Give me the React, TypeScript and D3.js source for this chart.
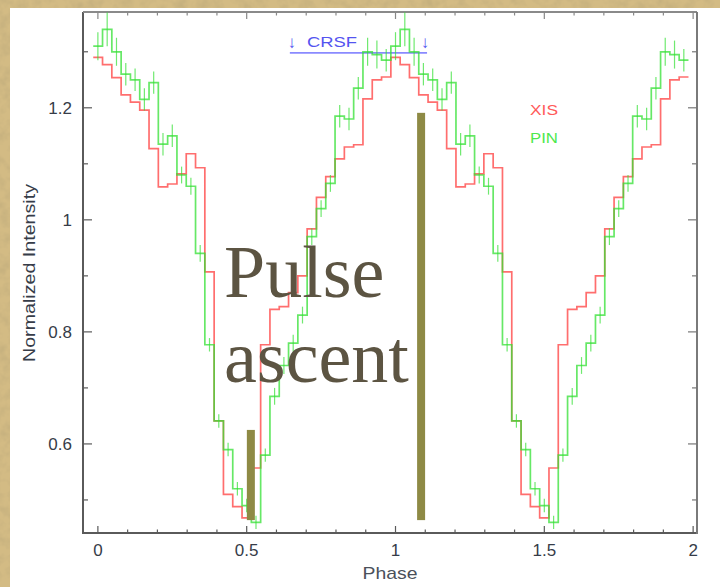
import React from "react";
import * as d3 from "d3";

// Canvas size
const W = 720;
const H = 587;

// Folded pulse profile: 32 phase bins per cycle, bins centred on k/32
const BINS = 32;
const xisProfile = [
  1.29, 1.277, 1.254, 1.223, 1.21, 1.196, 1.127, 1.059, 1.064, 1.082, 1.118,
  1.093, 0.907, 0.641, 0.51, 0.488, 0.468, 0.557, 0.777, 0.84, 0.845, 0.87,
  0.9, 0.984, 1.04, 1.077, 1.109, 1.13, 1.134, 1.216, 1.25, 1.255,
];
const pinProfile = [
  1.31, 1.34, 1.3, 1.26, 1.25, 1.215, 1.245, 1.135, 1.15, 1.08, 1.06, 0.94,
  0.777, 0.641, 0.59, 0.52, 0.49, 0.46, 0.58, 0.685, 0.74, 0.78, 0.83, 0.97,
  1.02, 1.065, 1.185, 1.18, 1.235, 1.3, 1.295, 1.285,
];
const pinError = [
  0.025, 0.03, 0.025, 0.02, 0.02, 0.02, 0.02, 0.02, 0.02, 0.015, 0.015, 0.015,
  0.012, 0.012, 0.012, 0.012, 0.012, 0.012, 0.012, 0.015, 0.015, 0.015, 0.015,
  0.015, 0.015, 0.015, 0.02, 0.02, 0.02, 0.025, 0.025, 0.02,
];
const cycles = [0, 1];

// Axis ticks
const yMajorTicks = [0.6, 0.8, 1, 1.2];
const yTickLabels = ["0.6", "0.8", "1", "1.2"];
const xMajorTicks = [0, 0.5, 1, 1.5, 2];
const xTickLabels = ["0", "0.5", "1", "1.5", "2"];

// Legend
const legendItems = ["XIS", "PIN"];
const legendColors = ["#ff5a5a", "#4ee84e"];

// Cyclotron resonance feature phase span
const crsfSpan = [0.645, 1.106];
const crsfLevel = 1.298;

// Highlighted phases
const phaseMarkers = [
  { phase: 0.514, top: 0.625 },
  { phase: 1.086, top: 1.191 },
];
const markerBase = 0.464;

const SANS = "'Liberation Sans', Arial, Helvetica, sans-serif";
const SERIF = "'Liberation Serif', 'Times New Roman', serif";

const x = d3.scaleLinear().domain([-0.05, 2.013]).range([83, 697]);
const y = d3.scaleLinear().domain([0.441, 1.371]).range([533, 12]);

function stepPath(profile: number[]): string {
  const pts: [number, number][] = [];
  cycles.forEach((c) =>
    profile.forEach((v, i) => pts.push([c + i / BINS - 0.5 / BINS, v]))
  );
  pts.push([cycles.length - 0.5 / BINS, profile[profile.length - 1]]);
  return (
    d3
      .line<[number, number]>()
      .x((d) => x(d[0]))
      .y((d) => y(d[1]))
      .curve(d3.curveStepAfter)(pts) || ""
  );
}

export default function App() {
  const xMinor = d3.range(0, 2.0001, 0.1);
  const yAll = d3.range(0.5, 1.3001, 0.1);
  const [x0, x1] = x.range();
  const [yb, yt] = y.range();

  return (
    <svg
      width={W}
      height={H}
      viewBox={`0 0 ${W} ${H}`}
      style={{ position: "absolute", left: 0, top: 0, display: "block" }}
    >
      <defs>
        <filter id="paper" x="0" y="0" width="100%" height="100%">
          <feTurbulence type="fractalNoise" baseFrequency="0.09" numOctaves="3" seed="7" />
          <feColorMatrix
            type="matrix"
            values="0 0 0 0 0.45  0 0 0 0 0.36  0 0 0 0 0.18  0.9 0 0 0 -0.35"
          />
        </filter>
      </defs>

      {/* parchment backdrop and white figure card */}
      <rect x={0} y={0} width={W} height={H} fill="#d3bb84" />
      <rect x={0} y={0} width={W} height={H} filter="url(#paper)" />
      <rect x={10} y={8} width={W - 10} height={H - 8} fill="#ffffff" />

      {/* frame */}
      <g fill="none" strokeWidth={2}>
        <line x1={x0} x2={x0} y1={yt} y2={yb + 1} stroke="#5a5a5a" />
        <line x1={x0} x2={x1} y1={yb} y2={yb} stroke="#5a5a5a" />
        <line x1={x0} x2={x1} y1={yt} y2={yt} stroke="#8a8a8a" />
        <line x1={x1} x2={x1} y1={yt} y2={yb + 1} stroke="#7a7a7a" />
      </g>

      {/* x ticks, bottom and top */}
      <g stroke="#5a5a5a" strokeWidth={1.2}>
        {xMinor.map((p) => {
          const major = xMajorTicks.some((m) => Math.abs(m - p) < 1e-6);
          const len = major ? 7 : 3.5;
          return (
            <g key={`xt${p.toFixed(1)}`}>
              <line x1={x(p)} x2={x(p)} y1={yb} y2={yb - len} />
              <line x1={x(p)} x2={x(p)} y1={yt} y2={yt + len} stroke="#888" />
            </g>
          );
        })}
      </g>

      {/* y ticks, left and right */}
      <g stroke="#5a5a5a" strokeWidth={1.2}>
        {yAll.map((v) => {
          const major = yMajorTicks.some((m) => Math.abs(m - v) < 1e-6);
          const len = major ? 9 : 5;
          return (
            <g key={`yt${v.toFixed(1)}`}>
              <line x1={x0} x2={x0 + len} y1={y(v)} y2={y(v)} />
              <line x1={x1} x2={x1 - len} y1={y(v)} y2={y(v)} stroke="#777" />
            </g>
          );
        })}
      </g>

      {/* tick labels */}
      <g fontFamily={SANS} fontSize={17} fill="#363c48">
        {yMajorTicks.map((v, i) => (
          <text key={`yl${i}`} x={72} y={y(v) + 6} textAnchor="end">
            {yTickLabels[i]}
          </text>
        ))}
        {xMajorTicks.map((p, i) => (
          <text key={`xl${i}`} x={x(p)} y={556} textAnchor="middle">
            {xTickLabels[i]}
          </text>
        ))}
      </g>

      {/* axis titles */}
      <text
        x={390}
        y={579}
        textAnchor="middle"
        fontFamily={SANS}
        fontSize={17}
        fill="#4a505a"
        textLength={55}
        lengthAdjust="spacingAndGlyphs"
      >
        Phase
      </text>
      <text
        transform="translate(35,273) rotate(-90)"
        textAnchor="middle"
        fontFamily={SANS}
        fontSize={16}
        fill="#363c48"
        textLength={178}
        lengthAdjust="spacingAndGlyphs"
      >
        Normalized Intensity
      </text>

      {/* CRSF phase span */}
      <g fill="#5454f0" fontFamily={SANS}>
        <line
          x1={x(crsfSpan[0])}
          x2={x(crsfSpan[1])}
          y1={y(crsfLevel)}
          y2={y(crsfLevel)}
          stroke="#8a8aff"
          strokeWidth={1.6}
        />
        <text x={x(crsfSpan[0]) + 2} y={48} fontSize={17} fontWeight="bold" textAnchor="middle">
          ↓
        </text>
        <text x={x(crsfSpan[1]) - 2} y={48} fontSize={17} fontWeight="bold" textAnchor="middle">
          ↓
        </text>
        <text x={307} y={47} fontSize={15} textLength={50} lengthAdjust="spacingAndGlyphs">
          CRSF
        </text>
      </g>

      {/* light curves */}
      <path
        d={stepPath(xisProfile)}
        fill="none"
        stroke="#ff4a4a"
        strokeOpacity={0.8}
        strokeWidth={1.7}
      />
      <path
        d={stepPath(pinProfile)}
        fill="none"
        stroke="#33e033"
        strokeOpacity={0.75}
        strokeWidth={1.7}
      />
      <g stroke="#33e033" strokeOpacity={0.7} strokeWidth={1.2}>
        {cycles.map((c) =>
          pinProfile.map((v, i) => (
            <line
              key={`e${c}-${i}`}
              x1={x(c + i / BINS)}
              x2={x(c + i / BINS)}
              y1={y(v - pinError[i])}
              y2={y(v + pinError[i])}
            />
          ))
        )}
      </g>

      {/* legend */}
      <g fontFamily={SANS} fontSize={14}>
        {legendItems.map((name, i) => (
          <text
            key={name}
            x={530}
            y={115 + i * 28}
            fill={legendColors[i]}
            textLength={28}
            lengthAdjust="spacingAndGlyphs"
          >
            {name}
          </text>
        ))}
      </g>

      {/* highlighted phases */}
      <g fill="#8e8a45">
        {phaseMarkers.map((m, i) => (
          <rect
            key={`m${i}`}
            x={x(m.phase) - 4}
            y={y(m.top)}
            width={8}
            height={y(markerBase) - y(m.top)}
          />
        ))}
      </g>

      {/* caption */}
      <g fontFamily={SERIF} fontSize={74} fill="#5c5442">
        <text x={224} y={297}>
          Pulse
        </text>
        <text x={224} y={382}>
          ascent
        </text>
      </g>
    </svg>
  );
}
